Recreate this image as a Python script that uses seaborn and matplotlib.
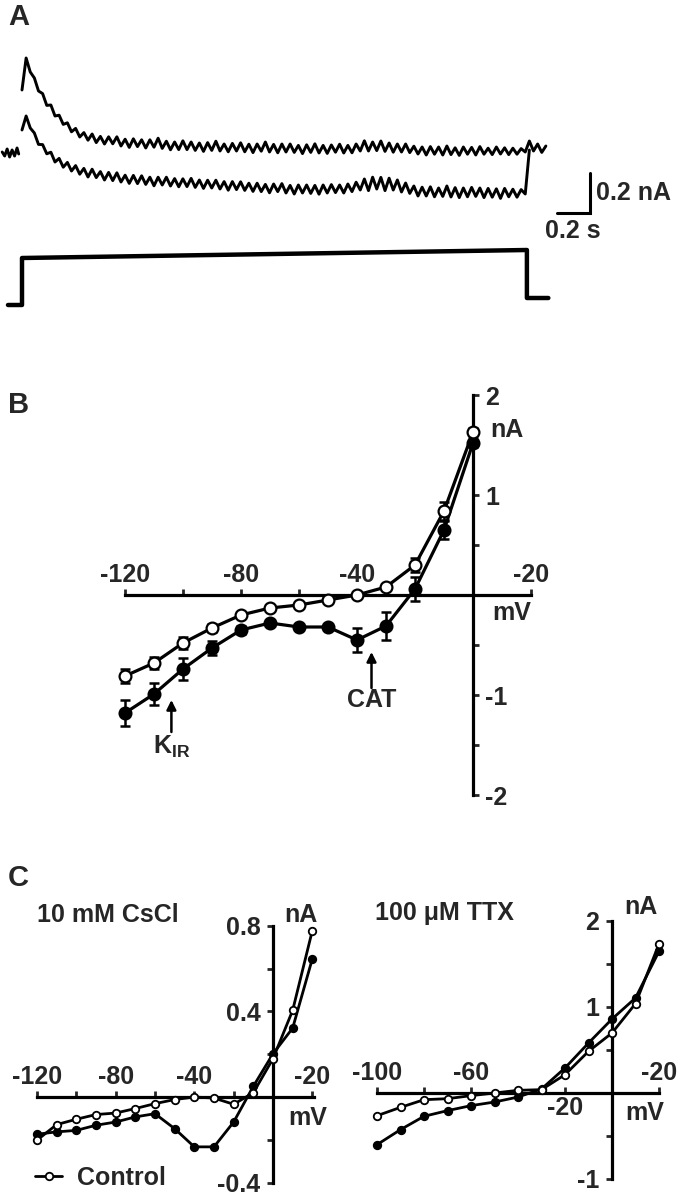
import numpy as np
import pandas as pd
import seaborn as sns
from matplotlib import pyplot as plt

sns.set_style("white")
plt.rcParams["font.family"] = ["Liberation Sans", "DejaVu Sans"]
plt.rcParams["font.weight"] = "bold"
plt.rcParams["mathtext.fontset"] = "custom"
plt.rcParams["mathtext.rm"] = "Liberation Sans:bold"
plt.rcParams["mathtext.bf"] = "Liberation Sans:bold"
plt.rcParams["mathtext.it"] = "Liberation Sans:bold"

W, H = 683, 1199
FS = 18

# ---- panel A: current traces (nA, relative to upper baseline), 25 ms samples
pre_t = [-0.12, -0.105, -0.09, -0.075, -0.06, -0.045, -0.03, -0.02]
pre_i = [-0.01, -0.03, 0.005, -0.035, 0.0, -0.03, 0.01, -0.02]

upper_i = [0.300, 0.460, 0.390, 0.360, 0.295, 0.282, 0.223, 0.225, 0.170, 0.174,
           0.128, 0.136, 0.091, 0.108, 0.065, 0.087, 0.049, 0.080, 0.037, 0.068,
           0.030, 0.066, 0.031, 0.066, 0.020, 0.054, 0.013, 0.056, 0.017, 0.051,
           0.010, 0.051, 0.014, 0.059, 0.008, 0.044, 0.001, 0.040, 0.002, 0.046,
           0.002, 0.040, -0.002, 0.035, -0.007, 0.037, -0.002, 0.044, -0.005, 0.030,
           -0.009, 0.033, -0.005, 0.036, -0.009, 0.029, -0.013, 0.030, -0.006, 0.040,
           -0.010, 0.028, -0.014, 0.030, -0.010, 0.030, -0.012, 0.023, -0.018, 0.026,
           -0.012, 0.031, -0.015, 0.023, -0.017, 0.025, -0.011, 0.029, -0.015, 0.023,
           -0.014, 0.030, -0.005, 0.046, -0.005, 0.040, -0.003, 0.045, -0.007, 0.035,
           -0.011, 0.030, -0.010, 0.030, -0.013, 0.019, -0.020, 0.015, -0.025, 0.017,
           -0.021, 0.015, -0.025, 0.020, -0.023, 0.011, -0.027, 0.015, -0.021, 0.013,
           -0.025, 0.017, -0.021, 0.009, -0.023, 0.015, -0.020, 0.011, -0.023, 0.009,
           -0.021, 0.007, -0.010, 0.045, -0.005, 0.030, -0.012, 0.020]

lower_i = [0.100, 0.170, 0.110, 0.085, 0.028, 0.027, -0.019, -0.011, -0.060, -0.042,
           -0.086, -0.062, -0.105, -0.078, -0.121, -0.092, -0.135, -0.096, -0.138, -0.108,
           -0.150, -0.112, -0.153, -0.114, -0.160, -0.126, -0.167, -0.127, -0.168, -0.129,
           -0.172, -0.136, -0.179, -0.136, -0.175, -0.136, -0.180, -0.143, -0.184, -0.144,
           -0.183, -0.142, -0.187, -0.150, -0.192, -0.151, -0.190, -0.151, -0.195, -0.158,
           -0.201, -0.158, -0.198, -0.159, -0.202, -0.166, -0.207, -0.166, -0.208, -0.172,
           -0.214, -0.170, -0.208, -0.168, -0.215, -0.177, -0.220, -0.175, -0.215, -0.175,
           -0.217, -0.177, -0.221, -0.175, -0.215, -0.173, -0.213, -0.175, -0.215, -0.170,
           -0.208, -0.161, -0.200, -0.145, -0.203, -0.136, -0.195, -0.137, -0.203, -0.141,
           -0.200, -0.150, -0.210, -0.165, -0.217, -0.180, -0.230, -0.186, -0.230, -0.184,
           -0.234, -0.190, -0.232, -0.180, -0.235, -0.188, -0.238, -0.190, -0.234, -0.187,
           -0.232, -0.190, -0.238, -0.192, -0.236, -0.194, -0.242, -0.192, -0.234, -0.196,
           -0.236, -0.198, -0.220, 0.000]

# voltage command (relative level)
step_t = [-0.085, 0.0, 0.0, 3.06, 3.06, 3.19]
step_v = [0.0, 0.0, 0.94, 1.10, 0.14, 0.14]

bar_t0, bar_i0, bar_s, bar_na = 3.24, -0.315, 0.2, 0.2

# ---- panel B: I-V, 13 steps
mv_b = [-120, -110, -100, -90, -80, -70, -60, -50, -40, -30, -20, -10, 0]
open_b = [-0.81, -0.68, -0.48, -0.33, -0.20, -0.13, -0.10, -0.05, 0.0, 0.08, 0.30, 0.84, 1.63]
open_b_err = [0.07, 0.06, 0.06, 0.04, 0.03, 0.03, 0.03, 0.03, 0.03, 0.03, 0.07, 0.09, 0.04]
filled_b = [-1.18, -0.99, -0.74, -0.53, -0.35, -0.28, -0.32, -0.32, -0.45, -0.31, 0.06, 0.65, 1.52]
filled_b_err = [0.13, 0.11, 0.11, 0.07, 0.04, 0.03, 0.03, 0.03, 0.12, 0.14, 0.12, 0.09, 0.04]
b_xticks = [-120, -100, -80, -60, -40, -20, 0, 20]
b_xlabels = ["-120", "", "-80", "", "-40", "", "", "-20"]
b_yticks = [-2, -1.5, -1, -0.5, 0, 0.5, 1, 1.5, 2]
b_ylabels = ["-2", "", "-1", "", "", "", "1", "", "2"]

# ---- panel C left: 10 mM CsCl
mv_cs = [-120, -110, -100, -90, -80, -70, -60, -50, -40, -30, -20, -10, 0, 10, 20]
control_cs = [-0.202, -0.129, -0.104, -0.082, -0.075, -0.054, -0.031, -0.012, 0.0, -0.005,
              -0.034, 0.020, 0.179, 0.405, 0.778]
cscl = [-0.174, -0.163, -0.156, -0.132, -0.117, -0.093, -0.078, -0.148, -0.233, -0.233,
        -0.117, 0.050, 0.202, 0.322, 0.646]
cs_xticks = [-120, -100, -80, -60, -40, -20, 0, 20]
cs_xlabels = ["-120", "", "-80", "", "-40", "", "", "-20"]
cs_yticks = [-0.4, -0.2, 0, 0.2, 0.4, 0.6, 0.8]
cs_ylabels = ["-0.4", "", "", "", "0.4", "", "0.8"]

# ---- panel C right: 100 uM TTX
mv_ttx = [-100, -90, -80, -70, -60, -50, -40, -30, -20, -10, 0, 10, 20]
control_ttx = [-0.264, -0.167, -0.078, -0.066, -0.031, 0.0, 0.031, 0.039, 0.213, 0.484,
               0.698, 1.039, 1.733]
ttx = [-0.601, -0.426, -0.271, -0.205, -0.147, -0.105, -0.047, 0.047, 0.291, 0.581,
       0.860, 1.105, 1.647]
ttx_xticks = [-100, -80, -60, -40, -20, 0, 20]
ttx_xlabels = ["-100", "", "-60", "", "", "", "-20"]
ttx_yticks = [-1, -0.5, 0, 0.5, 1, 1.5, 2]
ttx_ylabels = ["-1", "", "", "", "1", "", "2"]


def make_axes(fig, box, x0_px, x_scale, y0_px, y_scale):
    # box in figure pixels (left, right, top, bottom); data origin at (x0_px, y0_px)
    left, right, top, bottom = box
    ax = fig.add_axes([left / W, 1 - bottom / H, (right - left) / W, (bottom - top) / H])
    ax.set_xlim((left - x0_px) / x_scale, (right - x0_px) / x_scale)
    ax.set_ylim((y0_px - bottom) / y_scale, (y0_px - top) / y_scale)
    ax.patch.set_alpha(0)
    return ax


def cross_axes(ax, xb, yb, xticks, xlabels, yticks, ylabels, yside, lw=2.3):
    ax.spines["bottom"].set_visible(False)
    other = "left" if yside == "right" else "right"
    ax.spines[other].set_visible(False)
    ax.spines["top"].set_position(("data", 0))
    ax.spines[yside].set_position(("data", 0))
    ax.spines["top"].set_bounds(*xb)
    ax.spines[yside].set_bounds(*yb)
    for s in ("top", yside):
        ax.spines[s].set_linewidth(lw)
        ax.spines[s].set_color("black")
    ax.xaxis.set_ticks_position("top")
    ax.yaxis.set_ticks_position(yside)
    ax.set_xticks(xticks)
    ax.set_xticklabels(xlabels)
    ax.set_yticks(yticks)
    ax.set_yticklabels(ylabels)
    ax.tick_params(axis="x", direction="out", length=4, width=2, labelsize=FS, pad=2)
    ax.tick_params(axis="y", direction="out", length=4, width=2, labelsize=FS, pad=5)
    ax.set_xlabel("")
    ax.set_ylabel("")


def iv_line(ax, x, y, filled, ms, lw, mew, **kw):
    sns.lineplot(x=x, y=y, ax=ax, color="black", lw=lw, marker="o", markersize=ms,
                 mfc="black" if filled else "white", mec="black", mew=mew,
                 sort=False, estimator=None, zorder=4 if filled else 5, **kw)


fig = plt.figure(figsize=(W / 100, H / 100), dpi=100)

# ---------------- A
ax_a = make_axes(fig, (0, W, 40, 240), 22, 165, 150, 200)
ax_a.axis("off")
trace_kw = dict(color="black", lw=2.1, sort=False, estimator=None)
sns.lineplot(x=pre_t, y=pre_i, ax=ax_a, **trace_kw)
sns.lineplot(x=np.arange(len(upper_i)) * 0.025, y=upper_i, ax=ax_a, **trace_kw)
sns.lineplot(x=np.arange(len(lower_i)) * 0.025, y=lower_i, ax=ax_a, **trace_kw)
ax_a.plot([bar_t0, bar_t0 + bar_s, bar_t0 + bar_s], [bar_i0, bar_i0, bar_i0 + bar_na],
          color="black", lw=2.2, solid_joinstyle="miter")
ax_a.text(bar_t0 + bar_s + 0.04, bar_i0 + bar_na / 2, "0.2 nA", fontsize=FS,
          ha="left", va="center")
ax_a.text(bar_t0 + bar_s / 2, bar_i0 - 0.09, "0.2 s", fontsize=FS, ha="center", va="center")

ax_s = make_axes(fig, (0, W, 240, 320), 22, 165, 305, 50)
ax_s.axis("off")
sns.lineplot(x=step_t, y=step_v, ax=ax_s, color="black", lw=3.2, sort=False,
             estimator=None)

# ---------------- B
ax_b = make_axes(fig, (95, 560, 385, 810), 473, 2.9, 595, 100)
cross_axes(ax_b, (-120, 20), (-2, 2), b_xticks, b_xlabels, b_yticks, b_ylabels, "right")
ax_b.errorbar(mv_b, filled_b, yerr=filled_b_err, fmt="none", ecolor="black",
              elinewidth=1.8, capsize=3.5, capthick=1.8, zorder=3)
ax_b.errorbar(mv_b, open_b, yerr=open_b_err, fmt="none", ecolor="black",
              elinewidth=1.8, capsize=3.5, capthick=1.8, zorder=3)
iv_line(ax_b, mv_b, filled_b, True, 8.5, 2.3, 1.6)
iv_line(ax_b, mv_b, open_b, False, 8.5, 2.3, 1.6)
ax_b.text(6, 1.65, "nA", fontsize=FS, ha="left", va="center")
ax_b.text(13.5, -0.18, "mV", fontsize=FS, ha="center", va="center")
ax_b.annotate("", xy=(-35, -0.57), xytext=(-35, -0.93),
              arrowprops=dict(arrowstyle="-|>", color="black", lw=1.8, mutation_scale=14,
                              shrinkA=0, shrinkB=0))
ax_b.text(-35, -1.05, "CAT", fontsize=FS, ha="center", va="center")
ax_b.annotate("", xy=(-104, -1.05), xytext=(-104, -1.37),
              arrowprops=dict(arrowstyle="-|>", color="black", lw=1.8, mutation_scale=14,
                              shrinkA=0, shrinkB=0))
ax_b.text(-104, -1.52, r"K$_{\mathrm{IR}}$", fontsize=FS, ha="center", va="center")

# ---------------- C left
ax_c1 = make_axes(fig, (20, 335, 895, 1199), 273, 1.967, 1097, 214)
cross_axes(ax_c1, (-120, 21), (-0.4, 0.8), cs_xticks, cs_xlabels, cs_yticks, cs_ylabels,
           "left")
iv_line(ax_c1, mv_cs, cscl, True, 5.4, 2.0, 1.3)
iv_line(ax_c1, mv_cs, control_cs, False, 5.4, 2.0, 1.3, label="Control")
ax_c1.text(14, 0.85, "nA", fontsize=FS, ha="center", va="center")
ax_c1.text(17.5, -0.1, "mV", fontsize=FS, ha="center", va="center")
ax_c1.text(-120, 0.85, "10 mM CsCl", fontsize=FS, ha="left", va="center")
ax_c1.legend(loc="center left", bbox_to_anchor=(-121, -0.378), bbox_transform=ax_c1.transData,
             frameon=False, fontsize=FS, handlelength=1.1, handletextpad=0.6,
             borderpad=0, borderaxespad=0)

# ---------------- C right
ax_c2 = make_axes(fig, (345, 680, 895, 1199), 612, 2.35, 1093, 86)
cross_axes(ax_c2, (-100, 20), (-1, 2), ttx_xticks, ttx_xlabels, ttx_yticks, ttx_ylabels,
           "left")
iv_line(ax_c2, mv_ttx, ttx, True, 5.4, 2.0, 1.3)
iv_line(ax_c2, mv_ttx, control_ttx, False, 5.4, 2.0, 1.3)
ax_c2.text(12.3, 2.16, "nA", fontsize=FS, ha="center", va="center")
ax_c2.text(14, -0.23, "mV", fontsize=FS, ha="center", va="center")
ax_c2.text(-20, -0.18, "-20", fontsize=FS, ha="center", va="center")
ax_c2.text(-101, 2.09, "100 \u03bcM TTX", fontsize=FS, ha="left", va="center")

# panel letters
for letter, y in (("A", 17), ("B", 405), ("C", 878)):
    fig.text(8 / W, 1 - y / H, letter, fontsize=21, ha="left", va="center")

fig.savefig("out.png", dpi=100)
